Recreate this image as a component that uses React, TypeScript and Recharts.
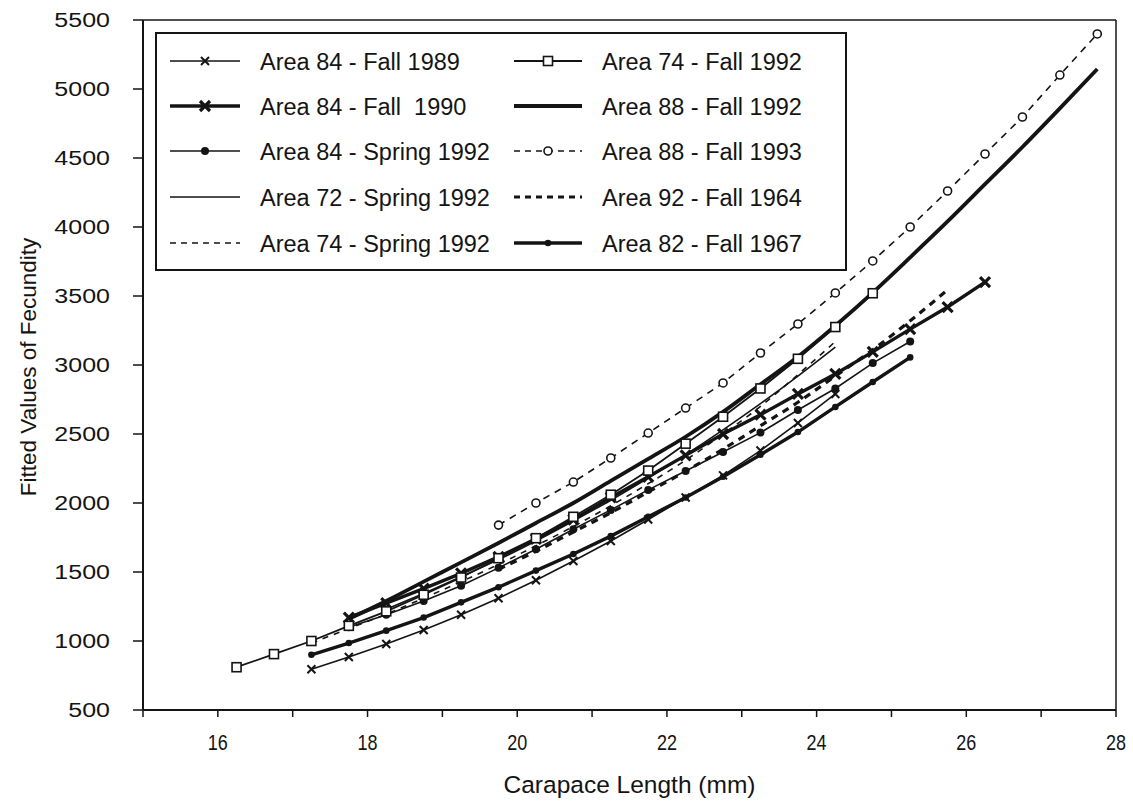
import React from "react";
import {
  Label,
  Legend,
  Line,
  LineChart,
  ReferenceLine,
  XAxis,
  YAxis,
} from "recharts";

// carapace length (mm), shared x positions of the fitted points
const CL = [
  16.25, 16.75, 17.25, 17.75, 18.25, 18.75, 19.25, 19.75, 20.25, 20.75, 21.25, 21.75,
  22.25, 22.75, 23.25, 23.75, 24.25, 24.75, 25.25, 25.75, 26.25, 26.75, 27.25, 27.75,
];
const n = null;

const A84_FALL89 = [n, n, 795, 884, 978, 1080, 1190, 1310, 1440, 1580, 1725, 1880, 2040, 2200, 2380, 2580, 2790, n, n, n, n, n, n, n];
const A84_FALL90 = [n, n, n, 1170, 1275, 1380, 1490, 1610, 1740, 1880, 2040, 2190, 2345, 2500, 2640, 2790, 2935, 3095, 3260, 3420, 3600, n, n, n];
const A84_SPR92 = [n, n, n, 1100, 1190, 1290, 1400, 1530, 1665, 1810, 1950, 2095, 2232, 2370, 2510, 2674, 2830, 3014, 3170, n, n, n, n, n];
const A72_SPR92 = [n, n, n, n, 1230, 1345, 1465, 1590, 1725, 1870, 2020, 2180, 2350, 2530, 2720, 2920, 3130, n, n, n, n, n, n, n];
const A74_SPR92 = [n, n, 985, 1090, 1195, 1310, 1430, 1555, 1690, 1830, 1980, 2140, 2310, 2500, 2700, 2930, 3170, n, n, n, n, n, n, n];
const A74_FALL92 = [810, 905, 1000, 1110, 1215, 1335, 1460, 1600, 1745, 1900, 2060, 2235, 2430, 2625, 2830, 3045, 3275, 3520, n, n, n, n, n, n];
const A88_FALL92 = [n, n, n, 1160, 1290, 1430, 1570, 1710, 1855, 2000, 2160, 2320, 2480, 2660, 2860, 3060, 3285, 3525, 3780, 4040, 4310, 4580, 4860, 5145];
const A88_FALL93 = [n, n, n, n, n, n, n, 1840, 2000, 2152, 2326, 2507, 2688, 2870, 3087, 3297, 3522, 3754, 4000, 4261, 4529, 4797, 5101, 5399];
const A92_FALL64 = [n, n, n, n, n, n, n, 1520, 1650, 1790, 1930, 2080, 2230, 2390, 2560, 2730, 2920, 3110, 3320, 3545, n, n, n, n];
const A82_FALL67 = [n, n, 900, 985, 1075, 1170, 1280, 1390, 1510, 1630, 1760, 1900, 2040, 2190, 2350, 2514, 2696, 2877, 3055, n, n, n, n, n];

const X_TICKS = [15, 16, 17, 18, 19, 20, 21, 22, 23, 24, 25, 26, 27, 28];
const Y_TICKS = [500, 1000, 1500, 2000, 2500, 3000, 3500, 4000, 4500, 5000, 5500];

const rows = CL.map((x, i) => ({
  x,
  a84f89: A84_FALL89[i],
  a84f90: A84_FALL90[i],
  a84s92: A84_SPR92[i],
  a72s92: A72_SPR92[i],
  a74s92: A74_SPR92[i],
  a74f92: A74_FALL92[i],
  a88f92: A88_FALL92[i],
  a88f93: A88_FALL93[i],
  a92f64: A92_FALL64[i],
  a82f67: A82_FALL67[i],
}));

const INK = "#141414";
const FONT = "'Liberation Sans', Arial, sans-serif";

type Marker = "cross" | "crossBold" | "dot" | "dotSmall" | "square" | "ring" | "none";

function drawMarker(kind: Marker, cx: number, cy: number, key?: string | number) {
  switch (kind) {
    case "cross":
      return (
        <g key={key}>
          <path d={`M${cx - 4},${cy - 4}L${cx + 4},${cy + 4}M${cx - 4},${cy + 4}L${cx + 4},${cy - 4}`} stroke={INK} strokeWidth={2} />
        </g>
      );
    case "crossBold":
      return (
        <g key={key}>
          <path d={`M${cx - 5},${cy - 5}L${cx + 5},${cy + 5}M${cx - 5},${cy + 5}L${cx + 5},${cy - 5}`} stroke={INK} strokeWidth={3.2} />
        </g>
      );
    case "dot":
      return <circle key={key} cx={cx} cy={cy} r={4} fill={INK} />;
    case "dotSmall":
      return <circle key={key} cx={cx} cy={cy} r={3.3} fill={INK} />;
    case "square":
      return <rect key={key} x={cx - 4.5} y={cy - 4.5} width={9} height={9} fill="#fff" stroke={INK} strokeWidth={1.6} />;
    case "ring":
      return <circle key={key} cx={cx} cy={cy} r={4} fill="#fff" stroke={INK} strokeWidth={1.6} />;
    default:
      return <g key={key} />;
  }
}

const dotOf = (kind: Marker) => (p: any) => {
  if (p.cx == null || p.cy == null || p.value == null) return <g key={p.key ?? p.index} />;
  return drawMarker(kind, p.cx, p.cy, p.key ?? p.index);
};

const SERIES = [
  { key: "a84f89", name: "Area 84 - Fall 1989", width: 1.6, dash: undefined, marker: "cross" as Marker, curve: "linear" },
  { key: "a84f90", name: "Area 84 - Fall  1990", width: 3.4, dash: undefined, marker: "crossBold" as Marker, curve: "linear" },
  { key: "a84s92", name: "Area 84 - Spring 1992", width: 1.6, dash: undefined, marker: "dot" as Marker, curve: "linear" },
  { key: "a72s92", name: "Area 72 - Spring 1992", width: 1.6, dash: undefined, marker: "none" as Marker, curve: "monotone" },
  { key: "a74s92", name: "Area 74 - Spring 1992", width: 1.6, dash: "6 6", marker: "none" as Marker, curve: "monotone" },
  { key: "a74f92", name: "Area 74 - Fall 1992", width: 1.8, dash: undefined, marker: "square" as Marker, curve: "linear" },
  { key: "a88f92", name: "Area 88 - Fall 1992", width: 3.8, dash: undefined, marker: "none" as Marker, curve: "monotone" },
  { key: "a88f93", name: "Area 88 - Fall 1993", width: 1.6, dash: "7 6", marker: "ring" as Marker, curve: "linear" },
  { key: "a92f64", name: "Area 92 - Fall 1964", width: 3.2, dash: "7 6", marker: "none" as Marker, curve: "monotone" },
  { key: "a82f67", name: "Area 82 - Fall 1967", width: 3.4, dash: undefined, marker: "dotSmall" as Marker, curve: "linear" },
];

function XTick(props: any) {
  const { x, y, payload } = props;
  const v = payload.value;
  if (v % 2 !== 0) return <g />;
  return (
    <g transform={`translate(${x},${y + 21})`}>
      <text transform="scale(0.8,1)" textAnchor="middle" fontFamily={FONT} fontSize={22.5} fill={INK}>
        {v}
      </text>
    </g>
  );
}

function YTick(props: any) {
  const { x, y, payload } = props;
  return (
    <g transform={`translate(${x},${y})`}>
      <text transform="scale(1.22,1)" textAnchor="end" dy="0.36em" fontFamily={FONT} fontSize={20.5} fill={INK}>
        {payload.value}
      </text>
    </g>
  );
}

const LEG_W = 692;
const LEG_H = 239;

function LegendBox() {
  const rowY = [29, 74, 119, 165, 211];
  const cols = [
    { lx1: 13, lx2: 83, tx: 103 },
    { lx1: 357, lx2: 425, tx: 445 },
  ];
  return (
    <div style={{ width: LEG_W, height: LEG_H, border: `2px solid ${INK}`, background: "#fff", boxSizing: "border-box" }}>
      <svg width={LEG_W - 4} height={LEG_H - 4} style={{ display: "block" }}>
        {SERIES.map((s, i) => {
          const c = cols[i < 5 ? 0 : 1];
          const y = rowY[i % 5] - 2;
          const mid = (c.lx1 + c.lx2) / 2;
          return (
            <g key={s.key}>
              <line x1={c.lx1} x2={c.lx2} y1={y} y2={y} stroke={INK} strokeWidth={s.width} strokeDasharray={s.dash ? "6 5" : undefined} />
              {s.marker !== "none" && drawMarker(s.marker, mid, y)}
              <text x={c.tx} y={y + 8.5} fontFamily={FONT} fontSize={23.5} fill={INK} style={{ whiteSpace: "pre" }}>
                {s.name}
              </text>
            </g>
          );
        })}
      </svg>
    </div>
  );
}

export default function App() {
  return (
    <div style={{ position: "absolute", left: 0, top: 0, width: 1133, height: 801, background: "#fff" }}>
      <LineChart width={1133} height={801} data={rows} margin={{ top: 20, right: 17, bottom: 0, left: 0 }}>
        <XAxis
          dataKey="x"
          type="number"
          domain={[15, 28]}
          ticks={X_TICKS}
          interval={0}
          height={91}
          tickSize={7}
          tickMargin={12}
          tick={XTick}
          axisLine={{ stroke: INK, strokeWidth: 2 }}
          tickLine={{ stroke: INK, strokeWidth: 1.5 }}
          allowDataOverflow
        >
          <Label
            value="Carapace Length (mm)"
            position="insideBottom"
            offset={8}
            style={{ fontFamily: FONT, fontSize: 24.5, fill: INK }}
          />
        </XAxis>
        <YAxis
          type="number"
          domain={[500, 5500]}
          ticks={Y_TICKS}
          interval={0}
          width={143}
          tickSize={10}
          tickMargin={23}
          tick={YTick}
          axisLine={{ stroke: INK, strokeWidth: 2 }}
          tickLine={{ stroke: INK, strokeWidth: 1.5 }}
          allowDataOverflow
        >
          <Label
            content={() => (
              <text
                x={28}
                y={367}
                transform="rotate(-90 28 367)"
                textAnchor="middle"
                dy="0.36em"
                fontFamily={FONT}
                fontSize={22.5}
                fill={INK}
              >
                Fitted Values of Fecundity
              </text>
            )}
          />
        </YAxis>
        <ReferenceLine y={5500} stroke={INK} strokeWidth={1.5} />
        <ReferenceLine x={28} stroke={INK} strokeWidth={1.5} />
        <Legend
          layout="vertical"
          align="center"
          verticalAlign="middle"
          content={() => <LegendBox />}
          wrapperStyle={{ left: 155, top: 32, width: LEG_W, height: LEG_H }}
        />
        {SERIES.map((s) => (
          <Line
            key={s.key}
            dataKey={s.key}
            name={s.name}
            type={s.curve as any}
            stroke={INK}
            strokeWidth={s.width}
            strokeDasharray={s.dash}
            dot={s.marker === "none" ? false : dotOf(s.marker)}
            activeDot={false}
            connectNulls={false}
            isAnimationActive={false}
          />
        ))}
      </LineChart>
    </div>
  );
}
